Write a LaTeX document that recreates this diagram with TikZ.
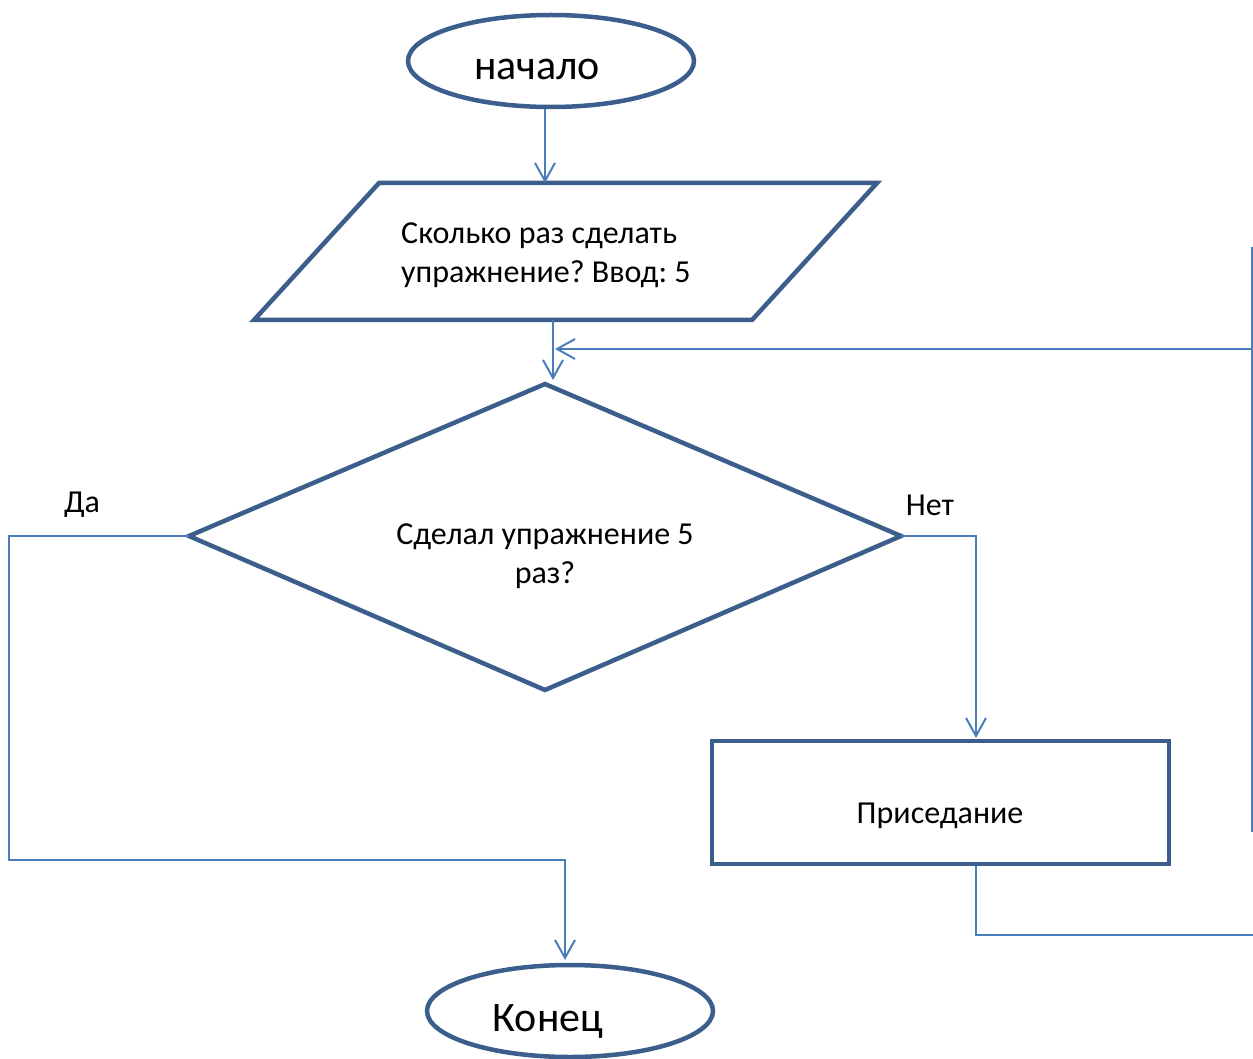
\documentclass[tikz,border=0pt]{standalone}
\usepackage{fontspec}
\setmainfont{Carlito}
\usetikzlibrary{shapes.geometric,arrows.meta}
\definecolor{shapeblue}{HTML}{3B5E8C}
\definecolor{lineblue}{HTML}{4A7EBB}
\begin{document}
\frenchspacing
\begin{tikzpicture}[x=1pt,y=-1pt,
  shp/.style={draw=shapeblue,line width=4.5pt},
  conn/.style={draw=lineblue,line width=2pt},
  arr/.style={conn,-{Straight Barb[length=18pt,width=20pt]}},
  txt/.style={font=\fontsize{32}{39}\selectfont,inner sep=0pt},
  bigtxt/.style={font=\fontsize{42}{48}\selectfont,inner sep=0pt}]
\useasboundingbox (0,0) rectangle (1253,1059);
% start
\node[shp,ellipse,minimum width=286pt,minimum height=92pt,inner sep=0pt] (start) at (551,61) {};
\node[bigtxt] (starttxt) at (537,69) {начало};
% parallelogram
\coordinate (pa) at (379,183);
\coordinate (pb) at (877,183);
\coordinate (pc) at (752,320);
\coordinate (pd) at (254,320);
\draw[shp,line join=miter] (pa) -- (pb) -- (pc) -- (pd) -- cycle;
\node[txt,align=left,anchor=west] (paratxt) at (401,255) {Сколько раз сделать\\упражнение? Ввод: 5};
\coordinate (ptop) at (545,183);
\coordinate (pbot) at (553,320);
% diamond
\coordinate (dt) at (545,384);
\coordinate (dl) at (189,536);
\coordinate (dr) at (901,536);
\coordinate (db) at (545,690);
\draw[shp,line join=miter] (dt) -- (dr) -- (db) -- (dl) -- cycle;
\node[txt,align=center] (dtxt) at (545,556) {Сделал упражнение 5\\раз?};
\coordinate (dtin) at (553,380);
% rectangle
\node[shp,rectangle,minimum width=457pt,minimum height=123pt,inner sep=0pt] (rect) at (940.5,802.5) {};
\node[txt] (recttxt) at (940,816) {Приседание};
% end
\node[shp,ellipse,minimum width=286pt,minimum height=92pt,inner sep=0pt] (end) at (570,1011) {};
\node[bigtxt] (endtxt) at (548,1021) {Конец};
% labels
\node[txt] (yes) at (82,505) {Да};
\node[txt] (no) at (930,505) {Нет};
% helper coordinates
\coordinate (loopin) at (555,349);
\coordinate (loopout) at (1253,349);
\coordinate (yl) at (9,536);
\coordinate (yb) at (9,860);
\coordinate (yc) at (565,860);
\coordinate (ye) at (565,960);
\coordinate (nr) at (976,536);
\coordinate (ne) at (976,738);
\coordinate (rb) at (976,935);
\coordinate (rr) at (1253,935);
\coordinate (vt) at (1252,247);
\coordinate (vb) at (1252,832);
% connectors
\draw[arr] (start.south -| ptop) -- (ptop);
\draw[arr] (pbot) -- (dtin);
\draw[arr] (loopout) -- (loopin);
\draw[arr] (dl) -- (yl) -- (yb) -- (yc) -- (ye);
\draw[arr] (dr) -- (nr) -- (ne);
\draw[conn] (rect.south -| nr) -- (rb) -- (rr);
\draw[conn] (vt) -- (vb);
\end{tikzpicture}
\end{document}
